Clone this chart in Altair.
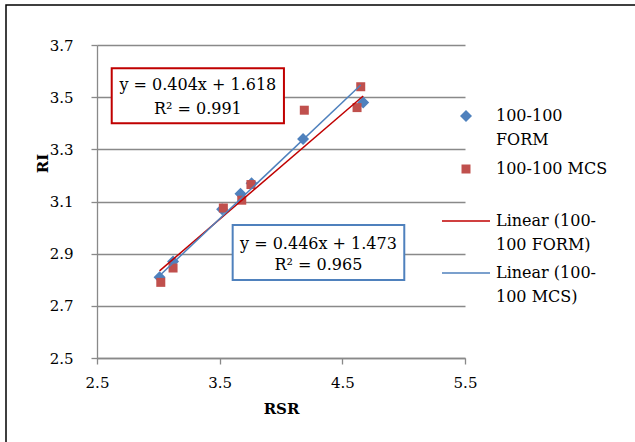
import altair as alt
import pandas as pd

# ---- data ----
form_rsr = [3.01, 3.12, 3.52, 3.67, 3.76, 4.18, 4.67]
form_ri = [2.81, 2.87, 3.07, 3.13, 3.17, 3.34, 3.48]
mcs_rsr = [3.02, 3.12, 3.53, 3.68, 3.755, 4.19, 4.62, 4.65]
mcs_ri = [2.79, 2.845, 3.075, 3.105, 3.165, 3.45, 3.46, 3.54]

series = ["100-100 FORM", "100-100 MCS", "Linear (100-100 FORM)", "Linear (100-100 MCS)"]
legend_lines = [["100-100", "FORM"], ["100-100 MCS"], ["Linear (100-", "100 FORM)"], ["Linear (100-", "100 MCS)"]]
fit_slope = [0.404, 0.446]
fit_intercept = [1.618, 1.473]
fit_r2 = [0.991, 0.965]

x_ticks = [2.5, 3.5, 4.5, 5.5]
y_ticks = [2.5, 2.7, 2.9, 3.1, 3.3, 3.5, 3.7]

# equation boxes (data coordinates)
box_x1 = [2.62, 3.606]
box_x2 = [4.024, 5.005]
box_y1 = [3.611, 3.010]
box_y2 = [3.400, 2.799]
box_color = ["#C00000", "#4F81BD"]
eq_line1_y = [3.547, 2.938]
eq_line2_y = [3.455, 2.855]

colors = ["#4F81BD", "#C0504D", "#C00000", "#4F81BD"]
shapes = ["diamond", "M-0.75,-0.75H0.75V0.75H-0.75Z", "M-4,-0.13H4V0.13H-4Z", "M-4,-0.13H4V0.13H-4Z"]

FONT = "DejaVu Serif"
W, H = 368, 313
XD = [2.5, 5.5]
YD = [2.5, 3.7]

# legend layout (pixels, relative to plot area)
LEG_SYM_X = 369
LEG_TXT_X = 399
LEG_ROW_Y = [71, 124, 176, 228]
LEG_LINE_GAP = 23.5


def px_to_x(px):
    return XD[0] + px / W * (XD[1] - XD[0])


def py_to_y(py):
    return YD[1] - py / H * (YD[1] - YD[0])


pts = pd.DataFrame({
    "RSR": form_rsr + mcs_rsr,
    "RI": form_ri + mcs_ri,
    "series": [series[0]] * len(form_rsr) + [series[1]] * len(mcs_rsr),
})

rows = []
for i, (xs, nm) in enumerate([(form_rsr, series[2]), (mcs_rsr, series[3])]):
    for xv in (min(xs), max(xs)):
        rows.append({"RSR": xv, "RI": fit_slope[i] * xv + fit_intercept[i], "series": nm})
trend = pd.DataFrame(rows)

boxes = pd.DataFrame({"x1": box_x1, "x2": box_x2, "y1": box_y1, "y2": box_y2, "c": box_color})
eqs = []
for i in range(2):
    xc = (box_x1[i] + box_x2[i]) / 2
    sign = "+" if fit_intercept[i] >= 0 else "-"
    eqs.append({"x": xc, "y": eq_line1_y[i], "t": f"y = {fit_slope[i]:.3f}x {sign} {abs(fit_intercept[i]):.3f}"})
    eqs.append({"x": xc, "y": eq_line2_y[i], "t": f"R² = {fit_r2[i]:.3f}"})
eqs = pd.DataFrame(eqs)

leg_sym = pd.DataFrame({
    "RSR": [px_to_x(LEG_SYM_X)] * len(series),
    "RI": [py_to_y(py) for py in LEG_ROW_Y],
    "series": series,
})
leg_txt = []
for i, lines_ in enumerate(legend_lines):
    for j, t in enumerate(lines_):
        leg_txt.append({"x": px_to_x(LEG_TXT_X), "y": py_to_y(LEG_ROW_Y[i] + j * LEG_LINE_GAP), "t": t})
leg_txt = pd.DataFrame(leg_txt)

xscale = alt.Scale(domain=XD, nice=False, zero=False)
yscale = alt.Scale(domain=YD, nice=False, zero=False)

xenc = alt.X("RSR:Q", scale=xscale, axis=alt.Axis(
    values=x_ticks, format=".1f", grid=False, title="RSR", labelFlush=False,
    domainColor="#898989", domainWidth=1.3, tickColor="#898989", tickWidth=1.3, tickSize=6,
    labelFont=FONT, labelFontSize=15, labelColor="black", labelPadding=11,
    titleFont=FONT, titleFontSize=15, titleFontWeight="bold", titleColor="black",
    titleY=50, titleBaseline="middle"))
yenc = alt.Y("RI:Q", scale=yscale, axis=alt.Axis(
    values=y_ticks, format=".1f", grid=True, gridColor="#898989", gridWidth=1.3, title="RI",
    labelFlush=False,
    domainColor="#898989", domainWidth=1.3, tickColor="#898989", tickWidth=1.3, tickSize=6,
    labelFont=FONT, labelFontSize=15, labelColor="black", labelPadding=18,
    titleFont=FONT, titleFontSize=15, titleFontWeight="bold", titleColor="black",
    titleX=-55, titleY=118, titleAngle=270, titleAlign="center", titleBaseline="middle"))

cscale = alt.Scale(domain=series, range=colors)
sscale = alt.Scale(domain=series, range=shapes)

points = alt.Chart(pts).mark_point(filled=True, opacity=1, size=144, strokeWidth=0).encode(
    x=xenc, y=yenc,
    color=alt.Color("series:N", scale=cscale, legend=None),
    shape=alt.Shape("series:N", scale=sscale, legend=None),
)

lines = alt.Chart(trend).mark_line(strokeWidth=1.5).encode(
    x="RSR:Q", y="RI:Q",
    color=alt.Color("series:N", scale=cscale, legend=None),
    detail="series:N",
)

rects = alt.Chart(boxes).mark_rect(fill="white", strokeWidth=2).encode(
    x="x1:Q", x2="x2:Q", y="y1:Q", y2="y2:Q",
    stroke=alt.Stroke("c:N", scale=None),
)

texts = alt.Chart(eqs).mark_text(font=FONT, fontSize=16, color="black", baseline="middle").encode(
    x="x:Q", y="y:Q", text="t:N")

legend_symbols = alt.Chart(leg_sym).mark_point(filled=True, opacity=1, size=144, strokeWidth=0).encode(
    x="RSR:Q", y="RI:Q",
    color=alt.Color("series:N", scale=cscale, legend=None),
    shape=alt.Shape("series:N", scale=sscale, legend=None),
)
legend_texts = alt.Chart(leg_txt).mark_text(font=FONT, fontSize=16, color="black", align="left",
                                            baseline="middle").encode(
    x="x:Q", y="y:Q", text="t:N")

border = alt.Chart(pd.DataFrame({"a": [0]})).mark_rect(fill=None, stroke="black", strokeWidth=1.5).encode(
    x=alt.value(-91), x2=alt.value(700), y=alt.value(-40), y2=alt.value(600))

chart = alt.layer(points, lines, rects, texts, legend_symbols, legend_texts, border).properties(
    width=W, height=H,
    autosize=alt.AutoSizeParams(type="none"),
    padding={"left": 97, "top": 45, "right": 170, "bottom": 84},
    background="white",
).configure_view(stroke=None)

chart.save("out.html", embed_options={"renderer": "svg", "actions": False})
